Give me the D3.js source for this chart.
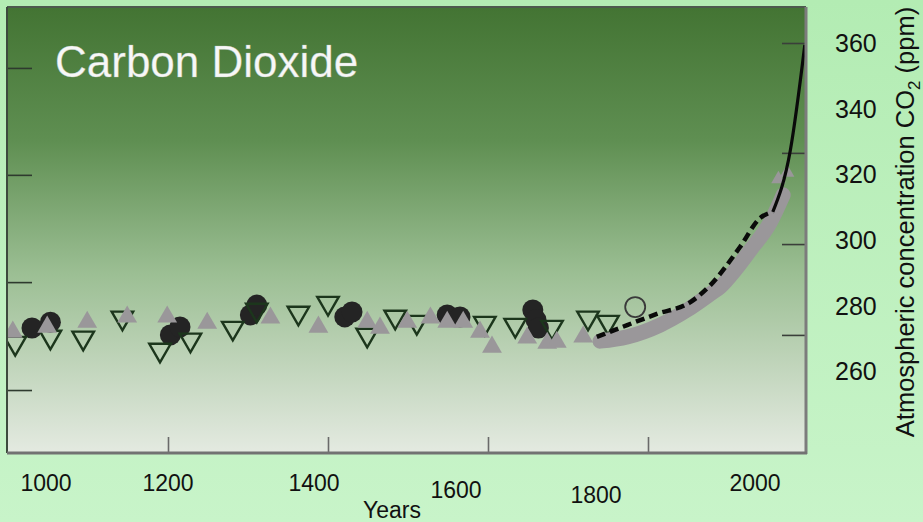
<!DOCTYPE html>
<html>
<head>
<meta charset="utf-8">
<script src="https://cdn.jsdelivr.net/npm/d3@7"></script>
<style>
  html, body { margin: 0; padding: 0; background: #bff0bf; }
  svg { display: block; font-family: "Liberation Sans", Arial, sans-serif; }
</style>
</head>
<body>
<svg id="chart" width="923" height="522"></svg>
<script>
// ---------- data (year, ppm) ----------
const circleYears = [1030, 1053, 1203, 1215, 1303, 1311, 1421, 1430, 1549, 1565, 1656, 1660, 1663];
const circlePpm   = [273.1, 274.9, 271.0, 273.4, 277.1, 280.1, 276.5, 278.0, 277.1, 276.5, 278.6, 275.6, 273.1];

const upTriYears = [1006, 1049, 1099, 1149, 1199, 1249, 1328, 1388, 1449, 1465, 1499, 1528, 1549, 1569, 1590, 1605, 1649, 1674, 1686, 1719, 1963, 1974];
const upTriPpm   = [271.9, 273.4, 274.9, 276.5, 276.5, 274.6, 276.2, 273.4, 274.9, 273.1, 274.9, 276.2, 274.9, 274.9, 271.9, 267.3, 270.1, 268.5, 268.8, 270.4, 318.5, 320.5];

const downTriYears = [1009, 1053, 1094, 1143, 1190, 1228, 1281, 1311, 1363, 1400, 1449, 1484, 1511, 1596, 1634, 1680, 1725, 1750];
const downTriPpm   = [268.5, 270.4, 270.1, 276.2, 266.4, 269.5, 273.1, 278.6, 277.7, 280.7, 271.0, 276.5, 274.9, 274.6, 274.0, 273.4, 276.2, 274.9];

const openCircleYears = [1784];
const openCirclePpm   = [279.5];

const bandYears = [1740, 1774, 1815, 1849, 1878, 1890, 1909, 1928, 1953, 1969];
const bandPpm   = [269.1, 270.4, 274.0, 278.6, 283.5, 285.6, 290.8, 296.9, 305.4, 313.7];

const lineYears = [1736, 1774, 1811, 1853, 1878, 1915, 1940, 1956, 1978, 1996];
const linePpm   = [270.4, 274.0, 277.4, 281.0, 286.2, 297.8, 306.6, 308.5, 327.4, 359.4];
const lineSolidFrom = 1956;

const yTickValues = [260, 280, 300, 320, 340, 360];
const xLabelYears = [1000, 1200, 1400, 1600, 1800, 2000];
const frameTicksBottom = [1200, 1400, 1600, 1800];
const frameTicksLeft  = [352.4, 319.8, 287.1, 254.2];
const frameTicksRight = [360, 326.5, 298.7, 271.0];

const titleText = "Carbon Dioxide";
const xTitle = "Years";

// ---------- layout ----------
const W = 923, H = 522;
const plot = { left: 7, right: 806, top: 7, bottom: 453 };

const x = d3.scaleLinear().domain([1000, 2000]).range([8, 808]);
const y = d3.scaleLinear().domain([260, 360]).range([371, 43]);
// the reference's year labels sit on their own (distorted) placement
const xLabel = d3.scaleLinear().domain(xLabelYears).range([46, 168, 314, 456, 596, 755]);
const xLabelDrop = d3.scaleOrdinal().domain(xLabelYears).range([0, 0, 0, 7, 12, 0]);

const svg = d3.select("#chart");
const defs = svg.append("defs");

const bg = defs.append("linearGradient").attr("id", "bg").attr("x1", 0).attr("y1", 0).attr("x2", 0).attr("y2", 1);
bg.append("stop").attr("offset", "0%").attr("stop-color", "#b3ecb3");
bg.append("stop").attr("offset", "100%").attr("stop-color", "#c8f4c9");

const pg = defs.append("linearGradient").attr("id", "pg").attr("x1", 0).attr("y1", 0).attr("x2", 0).attr("y2", 1);
pg.append("stop").attr("offset", "0%").attr("stop-color", "#437433");
pg.append("stop").attr("offset", "30%").attr("stop-color", "#5f8f52");
pg.append("stop").attr("offset", "60%").attr("stop-color", "#9cbf94");
pg.append("stop").attr("offset", "100%").attr("stop-color", "#e4eae1");

defs.append("clipPath").attr("id", "clip").append("rect")
  .attr("x", plot.left).attr("y", plot.top)
  .attr("width", plot.right - plot.left).attr("height", plot.bottom - plot.top);

svg.append("rect").attr("width", W).attr("height", H).attr("fill", "url(#bg)");

svg.append("rect")
  .attr("x", plot.left).attr("y", plot.top)
  .attr("width", plot.right - plot.left).attr("height", plot.bottom - plot.top)
  .attr("fill", "url(#pg)");

// title inside plot
svg.append("text")
  .attr("x", 55).attr("y", 77)
  .attr("font-size", 44)
  .attr("fill", "#f7f7f7")
  .attr("stroke", "rgba(190,200,190,0.6)").attr("stroke-width", 0.6)
  .text(titleText);

// frame ticks
const gl = svg.append("g").attr("transform", `translate(${plot.left},0)`)
  .call(d3.axisRight(y).tickValues(frameTicksLeft).tickSize(25).tickFormat(""));
const gr = svg.append("g").attr("transform", `translate(${plot.right},0)`)
  .call(d3.axisLeft(y).tickValues(frameTicksRight).tickSize(24).tickFormat(""));
const gb = svg.append("g").attr("transform", `translate(0,${plot.bottom})`)
  .call(d3.axisTop(x).tickValues(frameTicksBottom).tickSize(16).tickFormat(""));
[gl, gr, gb].forEach(g => { g.select(".domain").remove(); });
gl.selectAll("line").attr("stroke", "#2e3a2e").attr("stroke-width", 1.6);
gr.selectAll("line").attr("stroke", "#3a3f3a").attr("stroke-width", 1.6);
gb.selectAll("line").attr("stroke", "#6a6a6a").attr("stroke-width", 1.6);

// data layer
const dl = svg.append("g").attr("clip-path", "url(#clip)");

const circles = circleYears.map((yr, i) => ({ yr, v: circlePpm[i] }));
dl.selectAll("circle.dark").data(circles).join("circle")
  .attr("class", "dark")
  .attr("cx", d => x(d.yr)).attr("cy", d => y(d.v))
  .attr("r", 10.5).attr("fill", "#242424");

const downs = downTriYears.map((yr, i) => ({ yr, v: downTriPpm[i] }));
dl.selectAll("path.down").data(downs).join("path")
  .attr("class", "down")
  .attr("d", d3.symbol(d3.symbolTriangle, 200))
  .attr("transform", d => `translate(${x(d.yr)},${y(d.v)}) rotate(180)`)
  .attr("fill", "none").attr("stroke", "#1c361c").attr("stroke-width", 2.4);

const ups = upTriYears.map((yr, i) => ({ yr, v: upTriPpm[i] }));
dl.selectAll("path.up").data(ups).join("path")
  .attr("class", "up")
  .attr("d", d => d3.symbol(d3.symbolTriangle, d.yr > 1900 ? 90 : 170)())
  .attr("transform", d => `translate(${x(d.yr)},${y(d.v)})`)
  .attr("fill", "#9a979a");

const band = bandYears.map((yr, i) => ({ yr, v: bandPpm[i] }));
dl.append("path").datum(band)
  .attr("d", d3.line().x(d => x(d.yr)).y(d => y(d.v)).curve(d3.curveMonotoneX))
  .attr("fill", "none").attr("stroke", "#9a979a").attr("stroke-width", 15)
  .attr("stroke-linecap", "round").attr("stroke-linejoin", "round");

const lineData = lineYears.map((yr, i) => ({ yr, v: linePpm[i] }));
const lineGen = d3.line().x(d => x(d.yr)).y(d => y(d.v)).curve(d3.curveMonotoneX);
dl.append("path").datum(lineData.filter(d => d.yr <= lineSolidFrom))
  .attr("d", lineGen)
  .attr("fill", "none").attr("stroke", "#0a0a0a").attr("stroke-width", 4.5)
  .attr("stroke-dasharray", "9,5");
dl.append("path").datum(lineData.filter(d => d.yr >= lineSolidFrom))
  .attr("d", lineGen)
  .attr("fill", "none").attr("stroke", "#0a0a0a").attr("stroke-width", 3.2);

const opens = openCircleYears.map((yr, i) => ({ yr, v: openCirclePpm[i] }));
dl.selectAll("circle.open").data(opens).join("circle")
  .attr("class", "open")
  .attr("cx", d => x(d.yr)).attr("cy", d => y(d.v))
  .attr("r", 10).attr("fill", "none").attr("stroke", "#3a3a3a").attr("stroke-width", 1.8);

// frame
svg.append("line").attr("x1", plot.left).attr("x2", plot.right).attr("y1", plot.top).attr("y2", plot.top)
  .attr("stroke", "#4d5a4d").attr("stroke-width", 2);
svg.append("line").attr("x1", plot.left).attr("x2", plot.left).attr("y1", plot.top).attr("y2", plot.bottom)
  .attr("stroke", "#3d4a3d").attr("stroke-width", 2);
svg.append("line").attr("x1", plot.right).attr("x2", plot.right).attr("y1", plot.top).attr("y2", plot.bottom + 1)
  .attr("stroke", "#7c7c7c").attr("stroke-width", 3);
svg.append("line").attr("x1", plot.left).attr("x2", plot.right + 1).attr("y1", plot.bottom).attr("y2", plot.bottom)
  .attr("stroke", "#727272").attr("stroke-width", 3);

// y tick labels (right side)
const ya = svg.append("g").attr("transform", "translate(835,0)")
  .call(d3.axisRight(y).tickValues(yTickValues).tickSize(0).tickPadding(0));
ya.select(".domain").remove();
ya.selectAll("text").attr("font-size", 25).attr("fill", "#111")
  .attr("font-family", "Liberation Sans, Arial, sans-serif").attr("dy", "0.35em");

// x labels
svg.append("g").selectAll("text").data(xLabelYears).join("text")
  .attr("x", d => xLabel(d)).attr("y", d => 491 + xLabelDrop(d))
  .attr("text-anchor", "middle").attr("font-size", 23).attr("fill", "#111")
  .text(d => d);

svg.append("text").attr("x", 392).attr("y", 518)
  .attr("text-anchor", "middle").attr("font-size", 23).attr("fill", "#111")
  .text(xTitle);

// y title
const yt = svg.append("text")
  .attr("transform", "translate(914,222) rotate(-90)")
  .attr("text-anchor", "middle").attr("font-size", 25.5).attr("fill", "#111");
yt.append("tspan").text("Atmospheric concentration CO");
yt.append("tspan").attr("font-size", 17).attr("dy", 6).text("2");
yt.append("tspan").attr("dy", -6).text(" (ppm)");
</script>
</body>
</html>
